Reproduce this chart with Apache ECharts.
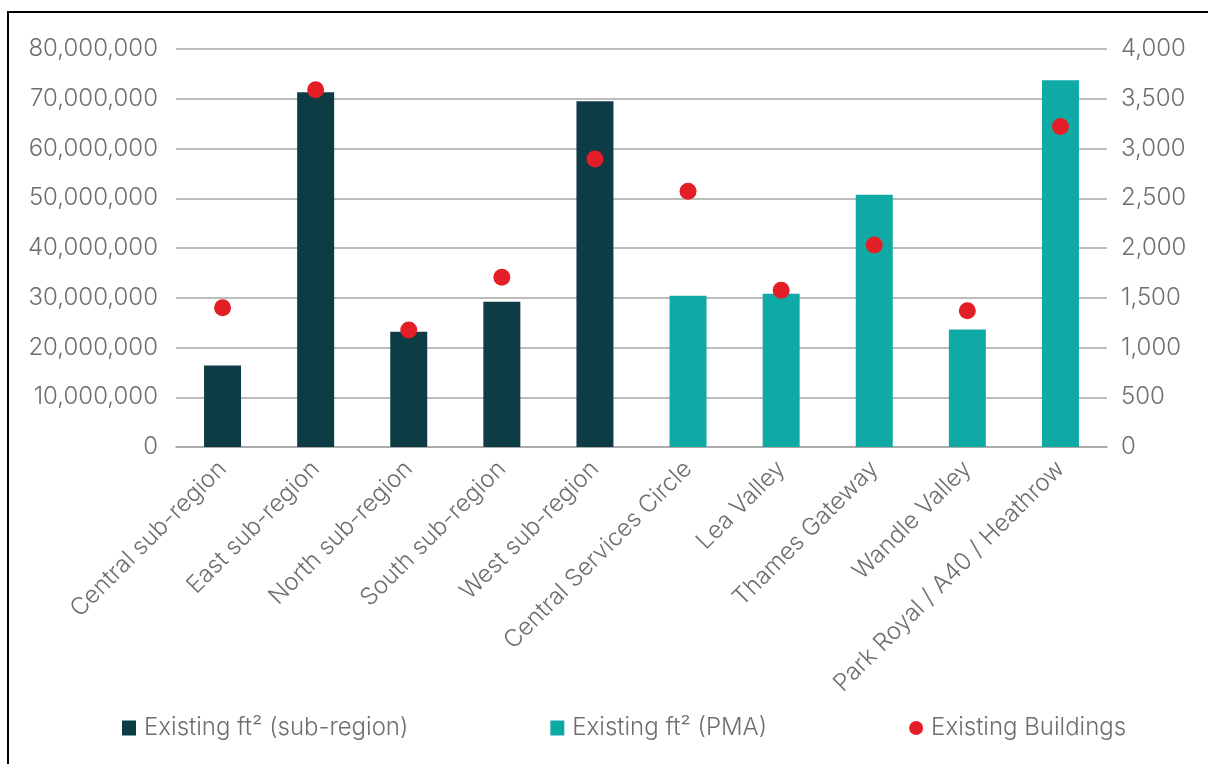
<!DOCTYPE html>
<html>
<head>
<meta charset="utf-8">
<script src="https://cdn.jsdelivr.net/npm/echarts@6/dist/echarts.min.js"></script>
<style>
  html, body { margin: 0; padding: 0; background: #ffffff; }
  #chart { width: 1208px; height: 764px; }
</style>
</head>
<body>
<div id="chart"></div>
<script>
// Floorspace and building counts by London sub-region and PMA
const categories = [
  'Central sub-region', 'East sub-region', 'North sub-region', 'South sub-region',
  'West sub-region', 'Central Services Circle', 'Lea Valley', 'Thames Gateway',
  'Wandle Valley', 'Park Royal / A40 / Heathrow'
];
const subRegionFt2 = [16400000, 71300000, 23150000, 29200000, 69500000, '-', '-', '-', '-', '-'];
const pmaFt2 = ['-', '-', '-', '-', '-', 30400000, 30800000, 50700000, 23600000, 73700000];
const existingBuildings = [1400, 3590, 1175, 1705, 2895, 2570, 1575, 2030, 1370, 3220];

const leftAxisMax = 80000000;
const leftAxisStep = 10000000;
const rightAxisMax = 4000;
const rightAxisStep = 500;

const seriesNames = ['Existing ft\u00B2 (sub-region)', 'Existing ft\u00B2 (PMA)', 'Existing Buildings'];

const textColor = '#6e6e6e';
const fontFamily = 'Inter, Roboto, "Open Sans", sans-serif';
const fmt = v => Number(v).toLocaleString('en-US');

const chart = echarts.init(document.getElementById('chart'), null, { renderer: 'canvas' });

chart.setOption({
  backgroundColor: '#ffffff',
  animation: false,
  textStyle: { fontFamily: fontFamily, fontWeight: 300 },
  graphic: [
    {
      type: 'polyline',
      shape: { points: [[8, 764], [8, 12], [1208, 12]] },
      style: { stroke: '#000000', lineWidth: 2, fill: null }
    }
  ],
  grid: { left: 176, right: 101, top: 49, bottom: 317, containLabel: false },
  legend: {
    left: 117,
    top: 711,
    itemGap: 142,
    itemWidth: 14,
    itemHeight: 15,
    textStyle: { color: textColor, fontSize: 24, fontFamily: fontFamily, fontWeight: 300, padding: [0, 0, 0, 3] },
    data: [
      { name: seriesNames[0], icon: 'rect' },
      { name: seriesNames[1], icon: 'rect' },
      { name: seriesNames[2], icon: 'circle' }
    ]
  },
  xAxis: {
    type: 'category',
    data: categories,
    axisLine: { show: true, lineStyle: { color: '#a6a6a6', width: 1.5 } },
    axisTick: { show: false },
    axisLabel: {
      rotate: 45,
      interval: 0,
      margin: 18,
      color: textColor,
      fontSize: 24,
      fontFamily: fontFamily,
      fontWeight: 300
    }
  },
  yAxis: [
    {
      type: 'value',
      min: 0,
      max: leftAxisMax,
      interval: leftAxisStep,
      axisLine: { show: false },
      axisTick: { show: false },
      splitLine: { show: true, lineStyle: { color: '#a6a6a6', width: 1.5 } },
      axisLabel: {
        margin: 18,
        color: textColor,
        fontSize: 24,
        fontFamily: fontFamily,
        fontWeight: 300,
        formatter: fmt
      }
    },
    {
      type: 'value',
      min: 0,
      max: rightAxisMax,
      interval: rightAxisStep,
      position: 'right',
      axisLine: { show: false },
      axisTick: { show: false },
      splitLine: { show: false },
      axisLabel: {
        margin: 14,
        color: textColor,
        fontSize: 24,
        fontFamily: fontFamily,
        fontWeight: 300,
        formatter: fmt
      }
    }
  ],
  series: [
    {
      name: seriesNames[0],
      type: 'bar',
      data: subRegionFt2,
      barWidth: 37,
      barGap: '-100%',
      itemStyle: { color: '#0d3c45' },
      z: 2
    },
    {
      name: seriesNames[1],
      type: 'bar',
      data: pmaFt2,
      barWidth: 37,
      barGap: '-100%',
      itemStyle: { color: '#10aaa6' },
      z: 2
    },
    {
      name: seriesNames[2],
      type: 'scatter',
      yAxisIndex: 1,
      data: existingBuildings,
      symbol: 'circle',
      symbolSize: 17,
      itemStyle: { color: '#e41e26', opacity: 1 },
      z: 5
    }
  ]
});
</script>
</body>
</html>
